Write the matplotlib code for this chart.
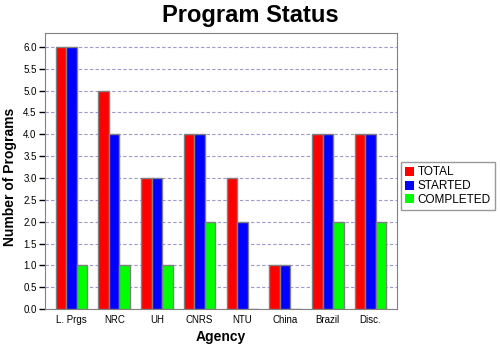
import numpy as np
import matplotlib
matplotlib.use('Agg')
import matplotlib.pyplot as plt

plt.rcParams['font.family'] = ['Liberation Sans', 'DejaVu Sans']

agencies = ['L. Prgs', 'NRC', 'UH', 'CNRS', 'NTU', 'China', 'Brazil', 'Disc.']
total = [6, 5, 3, 4, 3, 1, 4, 4]
started = [6, 4, 3, 4, 2, 1, 4, 4]
completed = [1, 1, 1, 2, 0, 0, 2, 2]
series = [('TOTAL', total, '#ff0000'),
          ('STARTED', started, '#0000ff'),
          ('COMPLETED', completed, '#00ff00')]
yticks = [0.0, 0.5, 1.0, 1.5, 2.0, 2.5, 3.0, 3.5, 4.0, 4.5, 5.0, 5.5, 6.0]

fig = plt.figure(figsize=(5, 3.5), dpi=100)
ax = fig.add_axes([0.09, 0.117, 0.704, 0.789])

x = np.arange(len(agencies))
w = 0.247
for i, (name, vals, col) in enumerate(series):
    ax.bar(x + (i - 1) * w, vals, w, color=col, edgecolor='#808080',
           linewidth=1, label=name, zorder=3)

ax.set_xlim(-0.62, 7.62)
ax.set_ylim(0, 6.32)
ax.set_yticks(yticks)
ax.set_yticklabels([f'{v:.1f}' for v in yticks], fontsize=7)
ax.set_xticks(x)
ax.set_xticklabels(agencies, fontsize=7)
ax.tick_params(axis='x', length=0, pad=4)
ax.tick_params(axis='y', length=4, width=1, color='black', pad=2)
ax.yaxis.grid(True, linestyle=(0, (3, 2)), color='#9a9acd', linewidth=0.8, zorder=0)
for s in ax.spines.values():
    s.set_color('#808080')

# title is centred on the whole figure, not on the axes
fig.text(0.5, 0.955, 'Program Status', fontsize=17, fontweight='bold',
         ha='center', va='center')
ax.set_xlabel('Agency', fontsize=10, fontweight='bold', labelpad=4)
ax.set_ylabel('Number of Programs', fontsize=10, fontweight='bold')
ax.yaxis.set_label_coords(-0.08, 0.48)

leg = ax.legend(loc='center left', bbox_to_anchor=(1.01, 0.445), fontsize=8.5,
                fancybox=False, handlelength=0.8, handleheight=0.8,
                handletextpad=0.3, borderpad=0.35, labelspacing=0.15,
                borderaxespad=0)
leg.get_frame().set_edgecolor('#808080')
for h in leg.legend_handles:
    h.set_edgecolor('none')

fig.savefig('out.png', dpi=100)
